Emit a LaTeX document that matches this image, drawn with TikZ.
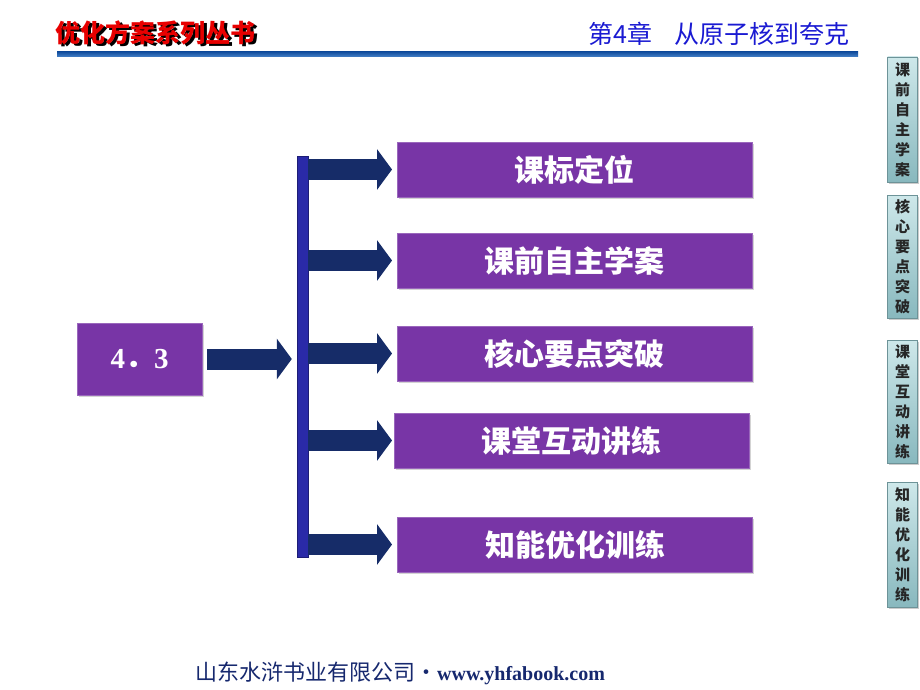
\documentclass[tikz,border=0pt]{standalone}
\usepackage{fontspec}
\setmainfont{Liberation Serif}
\newfontfamily\cjk{Noto Sans CJK SC}
\usetikzlibrary{arrows.meta,shadows,positioning}
\definecolor{boxpurple}{RGB}{120,53,166}
\definecolor{arrownavy}{RGB}{22,44,104}
\definecolor{barblue}{RGB}{42,42,168}
\definecolor{headred}{RGB}{232,0,0}
\definecolor{headblue}{RGB}{26,26,210}
\definecolor{linetop}{RGB}{20,80,160}
\definecolor{linebot}{RGB}{70,130,200}
\definecolor{tabtop}{RGB}{206,232,234}
\definecolor{tabbot}{RGB}{136,184,190}
\definecolor{footnavy}{RGB}{22,40,110}
\newcommand{\shadowtext}[1]{\rlap{\color{black}\hspace{2.5pt}\raisebox{-2pt}{#1}}#1}
\begin{document}
\begin{tikzpicture}[x=1pt,y=-1pt,
    topic/.style={draw=boxpurple!75!white, line width=0.6pt, fill=boxpurple,
        text=white, font=\cjk\bfseries\fontsize{30pt}{36pt}\selectfont,
        minimum width=355pt, minimum height=55pt, inner sep=0pt,
        drop shadow={shadow xshift=1.5pt, shadow yshift=-2pt, opacity=0.35}},
    block/.style={draw=arrownavy, line width=21pt,
        -{Triangle[length=15pt,width=40pt]}},
    tab/.style={top color=tabtop, bottom color=tabbot, draw=tabbot!80!black,
        line width=0.3pt, minimum width=30pt, inner sep=0pt, align=center,
        text=black!85, font=\cjk\bfseries\fontsize{15pt}{20pt}\selectfont,
        drop shadow={shadow xshift=1.5pt, shadow yshift=-1.5pt, opacity=0.4}}]
    \useasboundingbox (0,0) rectangle (920,690);
    % header
    \node[anchor=west, text=headred, font=\cjk\bfseries\fontsize{25pt}{25pt}\selectfont]
        (series) at (52,34) {\shadowtext{优化方案系列丛书}};
    \node[anchor=east, text=headblue, font=\cjk\fontsize{25pt}{25pt}\selectfont]
        (chapter) at (853,34) {第4章\hspace{22pt}从原子核到夸克};
    \fill[top color=linetop, bottom color=linebot] (57,52) rectangle (858,57);
    % section box and bar
    \node[topic, minimum width=125pt, minimum height=72pt,
        font=\bfseries\fontsize{29pt}{29pt}\selectfont] (sec) at (139.5,359) {4{\cjk．}3};
    \node[fill=barblue, draw=barblue!70!black, line width=0.4pt, inner sep=0pt,
        minimum width=11pt, minimum height=401pt] (bar) at (302.5,356.5) {};
    % topics
    \node[topic] (b1) at (574.5,169.5) {课标定位};
    \node[topic] (b2) at (574.5,260.5) {课前自主学案};
    \node[topic] (b3) at (574.5,353.5) {核心要点突破};
    \node[topic] (b4) at (571.5,440.5) {课堂互动讲练};
    \node[topic] (b5) at (575,544.5) {知能优化训练};
    % arrows
    \coordinate (tips) at (392,0);
    \draw[block] ([xshift=5pt]sec.east) -- ([xshift=-5pt]bar.west |- sec.east);
    \foreach \b in {b1,b2,b3,b4,b5}
        \draw[block] (bar.east |- \b) -- (tips |- \b);
    % side tabs
    \node[tab, minimum height=125pt] (t1) at (902.5,119.5) {课\\前\\自\\主\\学\\案};
    \node[tab, minimum height=123pt] (t2) at (902.5,256.5) {核\\心\\要\\点\\突\\破};
    \node[tab, minimum height=123pt] (t3) at (902.5,401.5) {课\\堂\\互\\动\\讲\\练};
    \node[tab, minimum height=125pt] (t4) at (902.5,544.5) {知\\能\\优\\化\\训\\练};
    % footer
    \node[anchor=west, text=footnavy, inner sep=0pt] (press) at (195,673)
        {{\cjk\fontsize{22pt}{22pt}\selectfont 山东水浒书业有限公司·}{\bfseries\fontsize{20pt}{20pt}\selectfont www.yhfabook.com}};
\end{tikzpicture}
\end{document}
